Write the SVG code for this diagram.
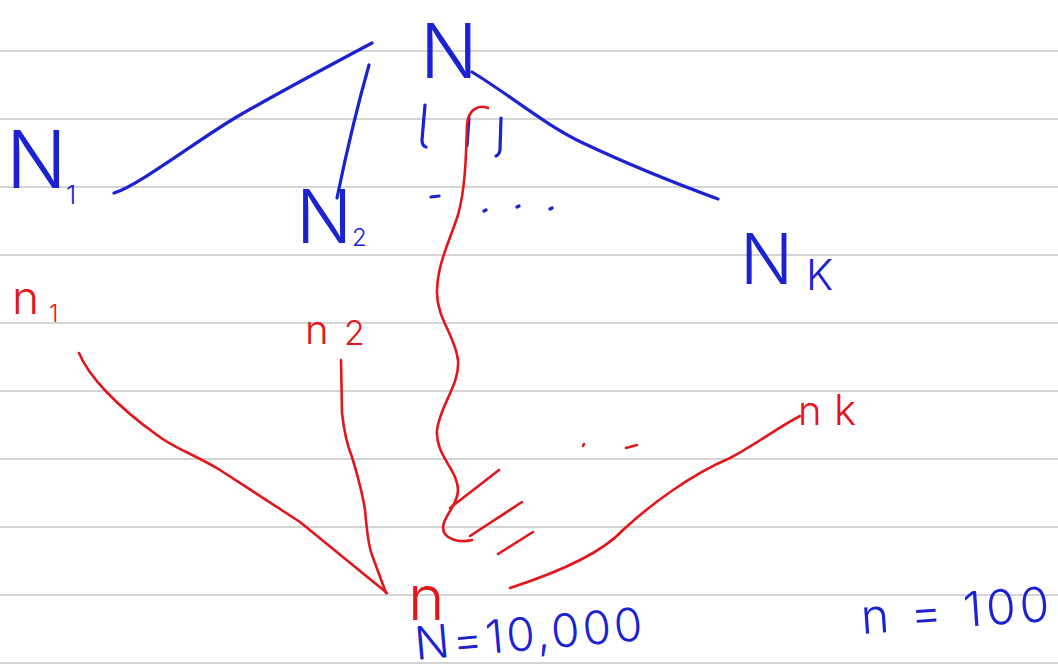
<svg xmlns="http://www.w3.org/2000/svg" width="1058" height="672" viewBox="0 0 1058 672">
<style>
.rule{stroke:#d4d4d4;stroke-width:2}
.b{stroke:#1b22d2;stroke-width:3.2;fill:none;stroke-linecap:round;stroke-linejoin:round}
.r{stroke:#e3161c;stroke-width:2.6;fill:none;stroke-linecap:round;stroke-linejoin:round}
.tb{fill:#1b22d2;font-family:Inter,"Liberation Sans",Arial,sans-serif;font-weight:300}
.tr{fill:#e3161c;font-family:Inter,"Liberation Sans",Arial,sans-serif;font-weight:300}
</style>
<rect width="1058" height="672" fill="#ffffff"/>
<g id="paper">
<line class="rule" x1="0" y1="51" x2="1058" y2="51"/>
<line class="rule" x1="0" y1="119" x2="1058" y2="119"/>
<line class="rule" x1="0" y1="187" x2="1058" y2="187"/>
<line class="rule" x1="0" y1="255" x2="1058" y2="255"/>
<line class="rule" x1="0" y1="323" x2="1058" y2="323"/>
<line class="rule" x1="0" y1="391" x2="1058" y2="391"/>
<line class="rule" x1="0" y1="459" x2="1058" y2="459"/>
<line class="rule" x1="0" y1="527" x2="1058" y2="527"/>
<line class="rule" x1="0" y1="595" x2="1058" y2="595"/>
<line class="rule" x1="0" y1="663" x2="1058" y2="663"/>
</g>
<g id="connectors">
<path class="b" d="M114,193 C140,185 200,138 240,115 S340,60 372,43"/>
<path class="b" d="M369,65 Q352,125 337,198"/>
<path class="b" d="M472,72 C510,95 545,125 583,143 S680,185 718,199"/>
<path class="b" d="M425,105 L422,140 Q422,146 426,147"/>
<path class="b" d="M469,118 L467,146"/>
<path class="b" d="M501,118 L500,150 Q499,155 496,156"/>
<path class="r" d="M79,353 C88,375 115,405 157,435 C175,449 190,452 220,470 L300,522 L387,593"/>
<path class="r" d="M341,360 L342,413 Q345,440 352,457 Q362,490 365,510 Q368,545 372,555 L386,593"/>
<path class="r" d="M510,588 C550,575 600,555 623,530 C650,505 690,475 730,458 C755,445 777,428 800,416"/>
<path class="r" d="M488,108 C478,104 468,110 467,125 C466,160 465,190 458,215 C450,240 438,262 437,290 C436,318 455,335 458,360 C460,385 440,405 437,430 C435,455 458,470 458,490 C458,505 444,515 443,527 C443,540 460,543 472,540"/>
<path class="r" d="M499,470 L450,508"/>
<path class="r" d="M522,502 L470,536"/>
<path class="r" d="M533,532 L498,554"/>
</g>
<g id="ellipsis-top">
<path class="b" d="M431,197 L439,196 M484,211 L486,210 M517,207 L519,206 M550,209 L552,208"/>
</g>
<g id="ellipsis-bottom">
<path class="r" d="M583,446 L584,444 M626,448 L637,445"/>
</g>
<g id="node-N"><text class="tb" x="420" y="78" font-size="76">N</text></g>
<g id="node-N1"><text class="tb" x="6" y="188" font-size="80">N</text><text class="tb" x="66" y="204" font-size="26">1</text></g>
<g id="node-N2"><text class="tb" x="296" y="243" font-size="74">N</text><text class="tb" x="352" y="246" font-size="24">2</text></g>
<g id="node-Nk"><text class="tb" x="740" y="284" font-size="70">N</text><text class="tb" x="806" y="290" font-size="42">K</text></g>
<g id="node-n1"><text class="tr" x="12" y="314" font-size="46">n</text><text class="tr" x="49" y="322" font-size="24">1</text></g>
<g id="node-n2"><text class="tr" x="305" y="344" font-size="40">n</text><text class="tr" x="344" y="345" font-size="34">2</text></g>
<g id="node-nk"><text class="tr" x="798" y="425" font-size="40">n</text><text class="tr" x="834" y="425" font-size="42">k</text></g>
<g id="node-n"><text class="tr" x="408" y="620" font-size="62">n</text></g>
<g id="label-N-total"><text class="tb" x="416" y="660" font-size="46" letter-spacing="3" transform="rotate(-5 416 660)">N=10,000</text></g>
<g id="label-n-total"><text class="tb" x="862" y="634" font-size="48" letter-spacing="4" transform="rotate(-4 862 634)">n = 100</text></g>
</svg>
